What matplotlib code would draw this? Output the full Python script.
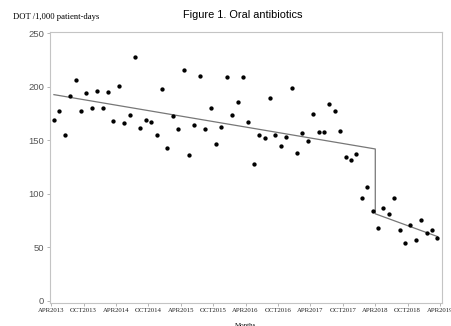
import numpy as np
import matplotlib
matplotlib.use("Agg")
import matplotlib.pyplot as plt

# Monthly DOT per 1,000 patient-days, APR2013 .. MAR2019
dot_rate = [169.2, 177.6, 155.1, 190.9, 206.5, 177.6, 194.1, 179.7, 195.6, 180.1,
            195.0, 168.2, 200.6, 166.1, 173.6, 228.0, 161.0, 169.2, 166.6, 155.1,
            198.1, 142.3, 172.2, 160.5, 215.2, 135.8, 164.2, 210.0, 160.5, 180.4,
            146.1, 162.0, 209.1, 173.6, 185.3, 209.1, 166.6, 127.8, 154.5, 152.0,
            189.1, 154.5, 144.6, 153.0, 198.8, 138.3, 156.4, 149.5, 174.8, 157.3,
            157.9, 184.1, 176.9, 158.9, 133.9, 131.1, 137.4, 96.5, 106.5, 84.1,
            68.2, 86.3, 81.3, 95.6, 66.6, 54.5, 70.7, 57.3, 75.4, 63.6,
            66.1, 58.9]

# segmented trend, start/end values
trend_pre = [192.5, 141.8]
trend_post = [81.3, 60.1]
break_month = 60  # APR2018

tick_labels = ["APR2013", "OCT2013", "APR2014", "OCT2014", "APR2015", "OCT2015",
               "APR2016", "OCT2016", "APR2017", "OCT2017", "APR2018", "OCT2018",
               "APR2019"]

months = np.arange(len(dot_rate)) + 0.5

fig = plt.figure(figsize=(4.51, 3.26), dpi=100)
ax = fig.add_axes([0.110, 0.072, 0.870, 0.830])

# trend line
ax.plot([months[0], break_month, break_month, months[-1]],
        [trend_pre[0], trend_pre[1], trend_post[0], trend_post[1]],
        color="#777777", lw=0.9, zorder=2)
ax.plot(months, dot_rate, "o", color="black", ms=2.1, zorder=3)

ax.set_xlim(-0.3, 72.35)
ax.set_ylim(-1.5, 251)

ax.set_xticks(np.arange(len(tick_labels)) * 6)
ax.set_xticklabels(tick_labels, fontfamily="Liberation Serif", fontsize=4.9,
                   color="#222222")
ax.set_yticks([0, 50, 100, 150, 200, 250])
ax.set_yticklabels(["0", "50", "100", "150", "200", "250"],
                   fontfamily="Liberation Sans", fontsize=6.8, color="#555555")
ax.tick_params(axis="both", length=2.5, width=0.6, color="#aaaaaa", pad=1.5)

for s in ax.spines.values():
    s.set_color("#c4c4c4")
    s.set_linewidth(0.8)

ax.set_xlabel("Months", fontfamily="Liberation Serif", fontsize=5, labelpad=7)

fig.text(0.028, 0.949, "DOT /1,000 patient-days", fontfamily="Liberation Serif",
         fontsize=6.2, va="center", ha="left")
fig.text(0.538, 0.954, "Figure 1. Oral antibiotics", fontfamily="Liberation Sans",
         fontsize=7.9, va="center", ha="center")

fig.savefig("out.png", dpi=100)
